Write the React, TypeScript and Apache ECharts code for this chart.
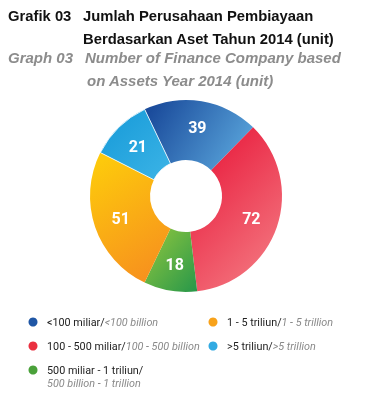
import React, { useEffect, useRef } from "react";
import * as echarts from "echarts";

const categories = ["<100 miliar", "100 - 500 miliar", "500 miliar - 1 triliun", "1 - 5 triliun", ">5 triliun"];
const categoriesEn = ["<100 billion", "100 - 500 billion", "500 billion - 1 trillion", "1 - 5 trillion", ">5 trillion"];
const values = [39, 72, 18, 51, 21];
const titleId = ["Jumlah Perusahaan Pembiayaan", "Berdasarkan Aset Tahun 2014 (unit)"];
const titleEn = ["Number of Finance Company based", "on Assets Year 2014 (unit)"];

const gradients: [string, string, number, number, number, number][] = [
  ["#1b4c9c", "#5aa6dc", 0, 0.3, 1, 0.7],
  ["#e8183a", "#f47a82", 0.2, 0, 0.8, 1],
  ["#93c83e", "#27974a", 0, 0, 1, 1],
  ["#fdc90c", "#f7901e", 0.3, 0, 0.7, 1],
  ["#1599d8", "#3cb4e6", 0, 0, 1, 1],
];
const legendColors = ["#1f56a5", "#ea3040", "#4aa13a", "#f8a21a", "#32aae2"];

export default function App() {
  const ref = useRef<HTMLDivElement>(null);
  useEffect(() => {
    if (!ref.current) return;
    const chart = echarts.init(ref.current, null, { renderer: "svg" });
    const titleFont = "Liberation Sans";
    const legendFont = "Roboto";
    const legendSize = 10.8;
    const legendPos = [
      [33, 322],
      [33, 346],
      [33, 370],
      [213, 322],
      [213, 346],
    ];
    const legendGraphics: any[] = [];
    categories.forEach((c, i) => {
      const [x, y] = legendPos[i];
      legendGraphics.push({
        type: "circle",
        shape: { cx: x, cy: y, r: 4.5 },
        style: { fill: legendColors[i] },
      });
      const twoLine = i === 2;
      legendGraphics.push({
        type: "text",
        x: x + 14,
        y: y,
        style: {
          text: twoLine ? `{a|${c}/}` : `{a|${c}/}{b|${categoriesEn[i]}}`,
          verticalAlign: "middle",
          rich: {
            a: { fontFamily: legendFont, fontSize: legendSize, fill: "#222" },
            b: { fontFamily: legendFont, fontSize: legendSize, fontStyle: "italic", fill: "#8a8a8a" },
          },
        },
      });
      if (twoLine) {
        legendGraphics.push({
          type: "text",
          x: x + 14,
          y: y + 13.5,
          style: {
            text: categoriesEn[i],
            verticalAlign: "middle",
            fontFamily: legendFont,
            fontSize: legendSize,
            fontStyle: "italic",
            fill: "#8a8a8a",
          },
        });
      }
    });

    const blackStyle = { fontFamily: titleFont, fontWeight: "bold", fontSize: 14.8, fill: "#111", verticalAlign: "bottom" };
    const grayStyle = { fontFamily: titleFont, fontWeight: "bold", fontStyle: "italic", fontSize: 15, fill: "#8c8c8c", verticalAlign: "bottom" };

    chart.setOption({
      animation: false,
      graphic: [
        { type: "text", x: 8, y: 23, style: { ...blackStyle, text: "Grafik 03" } },
        { type: "text", x: 83, y: 23, style: { ...blackStyle, text: titleId[0] } },
        { type: "text", x: 83, y: 46, style: { ...blackStyle, text: titleId[1] } },
        { type: "text", x: 8, y: 65, style: { ...grayStyle, text: "Graph 03" } },
        { type: "text", x: 85, y: 65, style: { ...grayStyle, text: titleEn[0] } },
        { type: "text", x: 87, y: 88, style: { ...grayStyle, text: titleEn[1] } },
        ...legendGraphics,
      ],
      series: [
        {
          type: "pie",
          center: [186, 196],
          radius: [36, 96],
          startAngle: 115.5,
          clockwise: true,
          avoidLabelOverlap: false,
          label: {
            show: true,
            position: "inside",
            formatter: "{c}",
            color: "#fff",
            fontSize: 16,
            fontWeight: "bold",
            fontFamily: "Roboto",
          },
          labelLine: { show: false },
          emphasis: { disabled: true },
          data: values.map((v, i) => ({
            value: v,
            name: categories[i],
            itemStyle: {
              color: new echarts.graphic.LinearGradient(gradients[i][2], gradients[i][3], gradients[i][4], gradients[i][5], [
                { offset: 0, color: gradients[i][0] },
                { offset: 1, color: gradients[i][1] },
              ]),
              borderWidth: i === 4 ? 1 : 0,
              borderColor: "rgba(255,255,255,0.8)",
            },
          })),
        },
      ],
    });
    return () => chart.dispose();
  }, []);
  return <div ref={ref} style={{ position: "fixed", left: 0, top: 0, width: 383, height: 400 }} />;
}
